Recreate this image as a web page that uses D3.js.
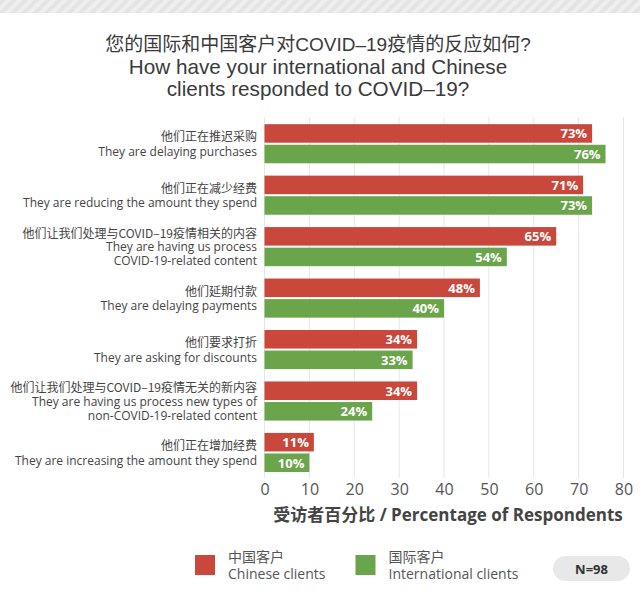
<!DOCTYPE html>
<html>
<head>
<meta charset="utf-8">
<script src="https://cdn.jsdelivr.net/npm/d3@7"></script>
<style>
  body { margin: 0; background: #fff; }
  svg { display: block; }
</style>
</head>
<body>
<svg id="chart" width="640" height="602"></svg>
<script>
// data
var categories = [
    ["他们正在推迟采购", "They are delaying purchases"],
    ["他们正在减少经费", "They are reducing the amount they spend"],
    ["他们让我们处理与COVID–19疫情相关的内容", "They are having us process", "COVID-19-related content"],
    ["他们延期付款", "They are delaying payments"],
    ["他们要求打折", "They are asking for discounts"],
    ["他们让我们处理与COVID–19疫情无关的新内容", "They are having us process new types of", "non-COVID-19-related content"],
    ["他们正在增加经费", "They are increasing the amount they spend"]
];
var chineseClients = [73, 71, 65, 48, 34, 34, 11];
var internationalClients = [76, 73, 54, 40, 33, 24, 10];
var xTicks = [0, 10, 20, 30, 40, 50, 60, 70, 80];
var seriesNames = [
    ["中国客户", "Chinese clients"],
    ["国际客户", "International clients"]
];
var titleLines = [
    "您的国际和中国客户对COVID–19疫情的反应如何?",
    "How have your international and Chinese",
    "clients responded to COVID–19?"
];

var RED = '#c9473b', GREEN = '#6ba54b';
var LABEL_FONT = '"Open Sans", "Noto Sans CJK SC", sans-serif';
var CJK_FONT = '"Noto Sans CJK SC", "Open Sans", sans-serif';

var svg = d3.select('#chart');

// striped band at the very top
var defs = svg.append('defs');
var pat = defs.append('pattern')
    .attr('id', 'stripes')
    .attr('patternUnits', 'userSpaceOnUse')
    .attr('width', 8).attr('height', 8)
    .attr('patternTransform', 'rotate(45)');
pat.append('rect').attr('width', 8).attr('height', 8).attr('fill', '#efefef');
pat.append('rect').attr('width', 4).attr('height', 8).attr('fill', '#e4e4e4');
svg.append('rect').attr('x', 0).attr('y', 0).attr('width', 640).attr('height', 13)
    .attr('fill', 'url(#stripes)');

// title
svg.append('g').selectAll('text')
    .data(titleLines)
    .enter().append('text')
    .attr('x', 318)
    .attr('y', (d, i) => [44, 66, 88][i])
    .attr('text-anchor', 'middle')
    .attr('dominant-baseline', 'central')
    .attr('font-family', '"Liberation Sans", "Noto Sans CJK SC", sans-serif')
    .attr('font-size', (d, i) => i == 0 ? 19 : 20.7)
    .attr('fill', '#3a3a3a')
    .text(d => d);

// scales
var x = d3.scaleLinear().domain([0, 80]).range([264.5, 623.5]);
var y = d3.scaleBand()
    .domain(d3.range(categories.length))
    .range([118, 478.2])
    .paddingInner(0.24)
    .paddingOuter(0.12);
var ySub = d3.scaleBand()
    .domain(['cn', 'intl'])
    .range([0, y.bandwidth()])
    .paddingInner(0.1);

// grid
svg.append('g').selectAll('line')
    .data(xTicks)
    .enter().append('line')
    .attr('x1', d => x(d)).attr('x2', d => x(d))
    .attr('y1', 117).attr('y2', 478)
    .attr('stroke', '#e6e6e6')
    .attr('stroke-width', 1);

// x axis labels
var xAxis = d3.axisBottom(x).tickValues(xTicks).tickSize(0).tickPadding(0);
var gx = svg.append('g').attr('transform', 'translate(0,484)').call(xAxis);
gx.select('.domain').remove();
gx.selectAll('text')
    .attr('font-family', LABEL_FONT)
    .attr('font-size', 16)
    .attr('fill', '#555');

svg.append('text')
    .attr('x', 448).attr('y', 514)
    .attr('text-anchor', 'middle')
    .attr('dominant-baseline', 'central')
    .attr('font-family', LABEL_FONT)
    .attr('font-size', 17)
    .attr('font-weight', 'bold')
    .attr('fill', '#444')
    .text('受访者百分比 / Percentage of Respondents');

// bars
var rows = categories.map((c, i) => ({i: i, cn: chineseClients[i], intl: internationalClients[i]}));
var groups = svg.append('g').selectAll('g')
    .data(rows)
    .enter().append('g')
    .attr('transform', d => 'translate(0,' + y(d.i) + ')');

['cn', 'intl'].forEach(function(k) {
    groups.append('rect')
        .attr('x', x(0))
        .attr('y', ySub(k))
        .attr('width', d => x(d[k]) - x(0))
        .attr('height', ySub.bandwidth())
        .attr('fill', k == 'cn' ? RED : GREEN);
    groups.append('text')
        .attr('x', d => x(d[k]) - 5)
        .attr('y', ySub(k) + ySub.bandwidth() / 2)
        .attr('text-anchor', 'end')
        .attr('dominant-baseline', 'central')
        .attr('font-family', LABEL_FONT)
        .attr('font-size', 13)
        .attr('font-weight', 'bold')
        .attr('fill', '#fff')
        .text(d => d[k] + '%');
});

// category labels
groups.each(function(d) {
    var lines = categories[d.i];
    var lineH = lines.length > 2 ? 14.3 : 15.5;
    var mid = y.bandwidth() / 2;
    var top = mid - (lines.length - 1) * lineH / 2;
    d3.select(this).selectAll('text.cat')
        .data(lines)
        .enter().append('text')
        .attr('class', 'cat')
        .attr('x', 257)
        .attr('y', (l, j) => top + j * lineH)
        .attr('text-anchor', 'end')
        .attr('dominant-baseline', 'central')
        .attr('font-family', (l, j) => j == 0 ? CJK_FONT : LABEL_FONT)
        .attr('font-size', 12)
        .attr('fill', '#444')
        .text(l => l);
});

// legend
var legend = svg.append('g').selectAll('g')
    .data(seriesNames)
    .enter().append('g')
    .attr('transform', (d, i) => 'translate(' + [195, 355.5][i] + ',555)');
legend.append('rect')
    .attr('width', 20).attr('height', 20)
    .attr('fill', (d, i) => i == 0 ? RED : GREEN);
legend.selectAll('text')
    .data(d => d)
    .enter().append('text')
    .attr('x', 33)
    .attr('y', (d, j) => j == 0 ? 1 : 18)
    .attr('dominant-baseline', 'central')
    .attr('font-family', (d, j) => j == 0 ? CJK_FONT : LABEL_FONT)
    .attr('font-size', 14)
    .attr('fill', '#555')
    .text(d => d);

// N badge
svg.append('rect')
    .attr('x', 553).attr('y', 556)
    .attr('width', 77).attr('height', 25)
    .attr('rx', 12.5)
    .attr('fill', '#e8e8e8');
svg.append('text')
    .attr('x', 591.5).attr('y', 568.5)
    .attr('text-anchor', 'middle')
    .attr('dominant-baseline', 'central')
    .attr('font-family', LABEL_FONT)
    .attr('font-size', 13)
    .attr('font-weight', 'bold')
    .attr('fill', '#333')
    .text('N=98');
</script>
</body>
</html>
